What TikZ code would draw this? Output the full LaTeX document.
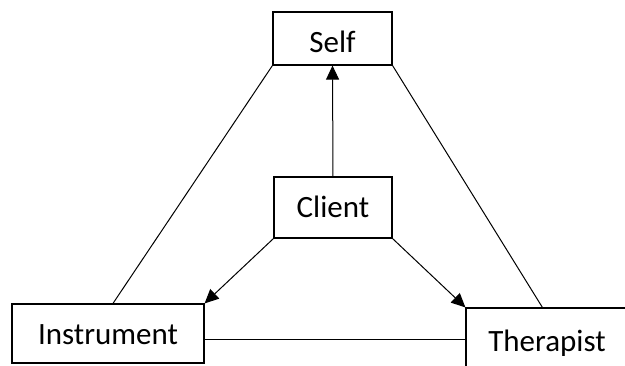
\documentclass[tikz,border=0pt]{standalone}
\usepackage{fontspec}
\setmainfont{Carlito}
\usetikzlibrary{arrows.meta,calc}
\begin{document}
\begin{tikzpicture}[x=1pt,y=1pt,
  box/.style={draw=black,line width=1.2pt,fill=white,inner sep=0pt,
    font=\fontsize{31}{37}\selectfont,text height=21pt,text depth=0pt},
  conn/.style={draw=black,line width=1pt},
  arr/.style={conn,-{Triangle[length=14pt,width=13pt]}}]
\useasboundingbox (0,0) rectangle (625,365);
\clip (0,0) rectangle (625,365);
\node[box,minimum width=119pt,minimum height=53pt,text height=28pt] (self) at (332.5,326.5) {Self};
\node[box,minimum width=118pt,minimum height=61pt] (client) at (333,157.5) {Client};
\node[box,minimum width=192pt,minimum height=59pt] (inst) at (108,31.5) {Instrument};
\node[box,minimum width=162pt,minimum height=66pt] (ther) at (547,24) {Therapist};
\coordinate (instTop) at ($(inst.north)+(5,0)$);
\coordinate (therTop) at ($(ther.north west)+(77,0)$);
\coordinate (instSide) at ($(inst.east)+(0,-5.5)$);
\draw[conn] (self.south west) -- (instTop);
\draw[conn] (self.south east) -- (therTop);
\draw[conn] (instSide) -- (instSide -| ther.west);
\draw[arr] (client.north) -- (self.south);
\draw[arr] (client.south west) -- (inst.north east);
\draw[arr] (client.south east) -- (ther.north west);
\end{tikzpicture}
\end{document}
